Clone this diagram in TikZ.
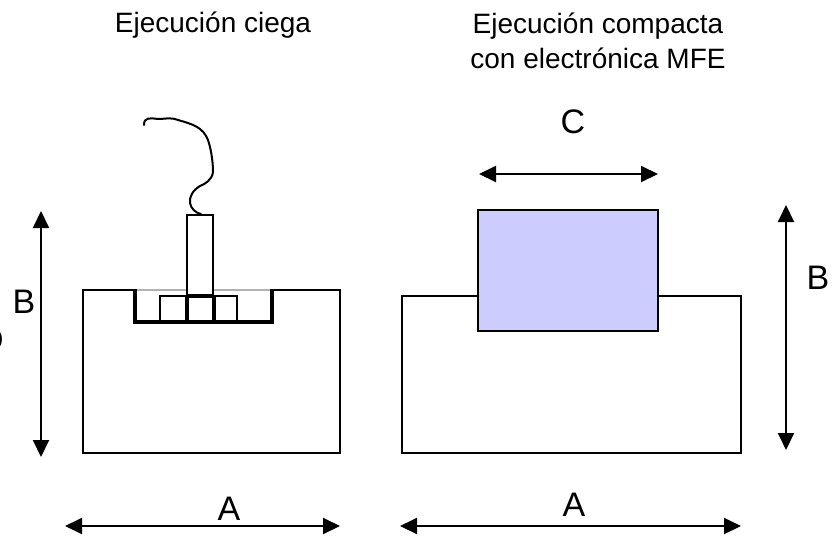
\documentclass[tikz,border=0pt]{standalone}
\usepackage{fontspec}
\setmainfont{Liberation Sans}
\usetikzlibrary{arrows.meta}
\tikzset{
  x=1pt,y=-1pt,
  body/.style={draw=black,line width=2pt,line join=miter},
  thick part/.style={draw=black,line width=3.2pt},
  thin part/.style={draw=black!30,line width=1.2pt},
  dim/.style={draw=black,line width=2pt,{Triangle[length=17pt,width=16pt]}-{Triangle[length=17pt,width=16pt]}},
  title/.style={font=\fontsize{28}{35}\selectfont,align=center,inner sep=0pt},
  letter/.style={font=\fontsize{34}{38}\selectfont,inner sep=0pt}
}
\begin{document}
\begin{tikzpicture}
\useasboundingbox (0,0) rectangle (837,538);
\clip (0,0) rectangle (837,538);
\node[title] (t1) at (213,25) {Ejecución ciega};
\node[title] (t2) at (598,41) {Ejecución compacta\\con electrónica MFE};
% left body
\draw[body] (135,290) -- (83,290) -- (83,453) -- (340,453) -- (340,290) -- (272,290);
\draw[thin part] (135,290) -- (187,290) (213,290) -- (272,290);
\draw[thick part] (135,289) -- (135,322) -- (272,322) -- (272,289);
\draw[body] (160,322) -- (160,296) -- (237,296) -- (237,322);
\draw[thick part] (187,322) -- (187,296) (214,322) -- (214,296) (187,296) -- (214,296);
\draw[body] (187,296) -- (187,215) -- (213,215) -- (213,296);
% wire
\draw[black,line width=2pt,line cap=round] (144,125) .. controls (144,117) and (150,118) .. (158,119)
  .. controls (166,119) and (170,117) .. (178,120)
  .. controls (192,124) and (203,127) .. (208,140)
  .. controls (212,152) and (213,165) .. (213,172)
  .. controls (212,180) and (205,184) .. (200,186)
  .. controls (193,190) and (189,197) .. (190,203)
  .. controls (191,209) and (196,213) .. (201,214);
% right body
\draw[body] (478,296) -- (402,296) -- (402,453) -- (741,453) -- (741,296) -- (658,296);
\node[draw=black,fill=blue!20,line width=2pt,minimum width=180pt,minimum height=121pt,inner sep=0pt] (box) at (568,270.5) {};
% dims
\coordinate (a1l) at (65,526); \coordinate (a1r) at (340,526);
\coordinate (a2l) at (400,526); \coordinate (a2r) at (741,526);
\coordinate (b1t) at (41,211); \coordinate (b1b) at (41,457);
\coordinate (b2t) at (786,205); \coordinate (b2b) at (786,450);
\coordinate (cl) at (479,174); \coordinate (cr) at (658,174);
\draw[dim] (a1l) -- (a1r);
\draw[dim] (a2l) -- (a2r);
\draw[dim] (b1t) -- (b1b);
\draw[dim] (b2t) -- (b2b);
\draw[dim] (cl) -- (cr);
\node[letter] (la1) at (229,509) {A};
\node[letter] (la2) at (574,505) {A};
\node[letter] (lb1) at (24,302) {B};
\node[letter] (lb2) at (818,278) {B};
\node[letter] (lc) at (573,122) {C};
\node[letter,anchor=east] (ld) at (4,340) {D};
\end{tikzpicture}
\end{document}
